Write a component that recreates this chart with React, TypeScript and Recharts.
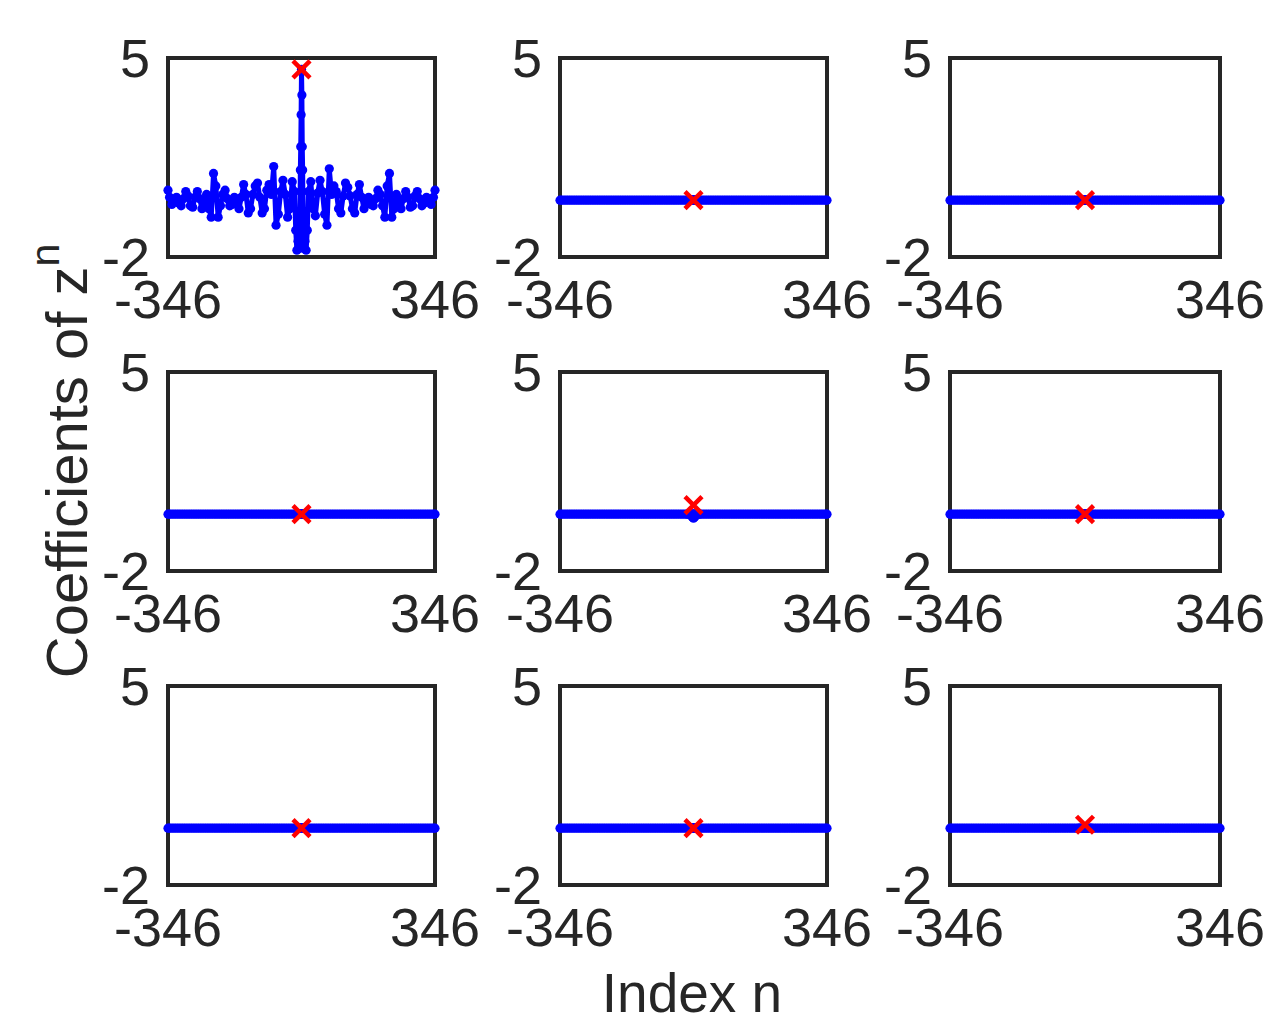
import { ComposedChart, Line, Scatter, XAxis, YAxis, ReferenceArea } from 'recharts';

// index n (denser round the centre spike)
const gridN = [
  -346, -342, -336, -330, -324, -318, -312, -306, -300, -294, -288, -282, -276, -270,
  -264, -258, -252, -246, -240, -234, -228, -222, -216, -210, -204, -198, -192, -186,
  -180, -174, -168, -162, -156, -150, -144, -138, -132, -126, -120, -114, -108, -102,
  -96, -90, -84, -78, -72, -66, -60, -54, -48, -42, -36, -30, -24, -18,
  -15, -12, -9, -6, -4, -3, -2, -1, 0, 1, 2, 3, 4, 6, 9, 12, 15,
  18, 24, 30, 36, 42, 48, 54, 60, 66, 72, 78, 84, 90, 96, 102, 108, 114, 120, 126, 132,
  138, 144, 150, 156, 162, 168, 174, 180, 186, 192, 198, 204, 210, 216, 222, 228, 234,
  240, 246, 252, 258, 264, 270, 276, 282, 288, 294, 300, 306, 312, 318, 324, 330, 336,
  342, 346,
];

// first panel
const coefPanel1 = [
  0.35, 0.1, -0.15, -0.05, 0.1, -0.1, -0.2, 0.05, 0.3, 0.15, -0.2, -0.25, 0.1, 0.3,
  0.05, -0.3, -0.1, 0.2, -0.3, -0.6, 0.94, 0.5, -0.6, -0.2, 0.2, 0.35, 0.05, -0.2,
  -0.15, 0.1, 0.0, -0.3, 0.1, 0.55, 0.2, -0.45, -0.3, 0.2, 0.5, 0.6, 0.1, -0.45,
  -0.3, 0.35, 0.55, 0.2, 1.18, -0.88, -0.5, 0.3, 0.7, 0.2, -0.6, -0.3, 0.65, 0.3,
  -1.06, -1.76, -1.45, -1.7, -0.6, 1.06, 1.88, 3.0, 4.6, 3.7, 1.88, 1.06, -0.6, -1.7, -1.45, -1.76, -1.06,
  0.3, 0.65, -0.3, -0.55, 0.25, 0.7, 0.3, -0.5, -0.88, 1.1, 0.2, 0.5, 0.3, -0.3, -0.45, 0.15,
  0.6, 0.45, 0.15, -0.3, -0.45, 0.2, 0.55, 0.1, -0.3, 0.0, 0.1, -0.15, -0.2, 0.05, 0.35,
  0.2, -0.2, -0.6, 0.5, 0.94, -0.6, -0.3, 0.2, -0.1, -0.3, 0.05, 0.3, 0.1, -0.25, -0.2,
  0.15, 0.3, 0.05, -0.2, -0.1, 0.1, -0.05, -0.15, 0.1, 0.35,
];

const flatCoef = gridN.map(() => 0);
const panel5Dip: Record<number, number> = { [-6]: -0.06, [-3]: -0.1, 0: -0.14, 3: -0.1, 6: -0.06 };
const coefPanel5 = gridN.map((n) => panel5Dip[n] ?? 0);

const panelCoefs = [
  coefPanel1, flatCoef, flatCoef,
  flatCoef, coefPanel5, flatCoef,
  flatCoef, flatCoef, flatCoef,
];
// red x at n = 0
const markerCoef = [4.6, 0, 0, 0, 0.32, 0, 0, 0, 0.12];

const xTicks = [-346, 346];
const yTicks = [-2, 5];

const colLeft = [168, 560, 950];
const colWidth = [267, 267, 270];
const rowTop = [58, 372, 686];
const PLOT_H = 199;
const AXIS_W = 80;
const X_AXIS_H = 80;
const PAD_TOP = 40;
const PAD_RIGHT = 70;

const FONT = '"Liberation Sans", Arial, Helvetica, sans-serif';
const INK = '#262626';

function RedCross(props: any) {
  const { cx, cy } = props;
  const s = 8.5;
  return (
    <path
      d={`M${cx - s},${cy - s}L${cx + s},${cy + s}M${cx - s},${cy + s}L${cx + s},${cy - s}`}
      stroke="#ff0000"
      strokeWidth={4.5}
      fill="none"
    />
  );
}

function Panel({ values, marker, plotW }: { values: number[]; marker: number; plotW: number }) {
  const data = gridN.map((n, i) => ({ n, c: values[i] }));
  return (
    <ComposedChart
      width={AXIS_W + plotW + PAD_RIGHT}
      height={PAD_TOP + PLOT_H + X_AXIS_H}
      data={data}
      margin={{ top: PAD_TOP, right: PAD_RIGHT, bottom: 0, left: 0 }}
    >
      <XAxis
        type="number"
        dataKey="n"
        domain={[-346, 346]}
        ticks={xTicks}
        interval={0}
        height={X_AXIS_H}
        axisLine={false}
        tickLine={false}
        tickSize={0}
        tickMargin={23}
        tick={{ fontSize: 54, fill: INK, fontFamily: FONT }}
      />
      <YAxis
        type="number"
        domain={[-2, 5]}
        ticks={yTicks}
        interval={0}
        width={AXIS_W}
        axisLine={false}
        tickLine={false}
        tickSize={0}
        tickMargin={18}
        tick={{ fontSize: 54, fill: INK, fontFamily: FONT }}
      />
      <ReferenceArea
        x1={-346}
        x2={346}
        y1={-2}
        y2={5}
        fill="none"
        fillOpacity={0}
        stroke={INK}
        strokeWidth={4}
        ifOverflow="visible"
      />
      <Line
        dataKey="c"
        stroke="#0000ff"
        strokeWidth={5}
        strokeLinejoin="round"
        dot={{ r: 4.6, fill: '#0000ff', stroke: 'none' }}
        isAnimationActive={false}
      />
      <Scatter
        data={[{ n: 0, c: marker }]}
        dataKey="c"
        shape={<RedCross />}
        isAnimationActive={false}
      />
    </ComposedChart>
  );
}

export default function App() {
  return (
    <div style={{ position: 'absolute', left: 0, top: 0, width: 1267, height: 1018, background: '#fff' }}>
      {panelCoefs.map((vals, i) => {
        const r = Math.floor(i / 3);
        const c = i % 3;
        return (
          <div
            key={i}
            style={{ position: 'absolute', left: colLeft[c] - AXIS_W, top: rowTop[r] - PAD_TOP }}
          >
            <Panel values={vals} marker={markerCoef[i]} plotW={colWidth[c]} />
          </div>
        );
      })}
      <svg
        width={1267}
        height={1018}
        style={{ position: 'absolute', left: 0, top: 0, pointerEvents: 'none' }}
      >
        <text
          transform="translate(87,461) rotate(-90)"
          textAnchor="middle"
          fontSize={58}
          fontFamily={FONT}
          fill={INK}
        >
          Coefficients of z
          <tspan fontSize={41} dy={-28}>n</tspan>
        </text>
        <text x={692} y={1012} textAnchor="middle" fontSize={55} fontFamily={FONT} fill={INK}>
          Index n
        </text>
      </svg>
    </div>
  );
}
